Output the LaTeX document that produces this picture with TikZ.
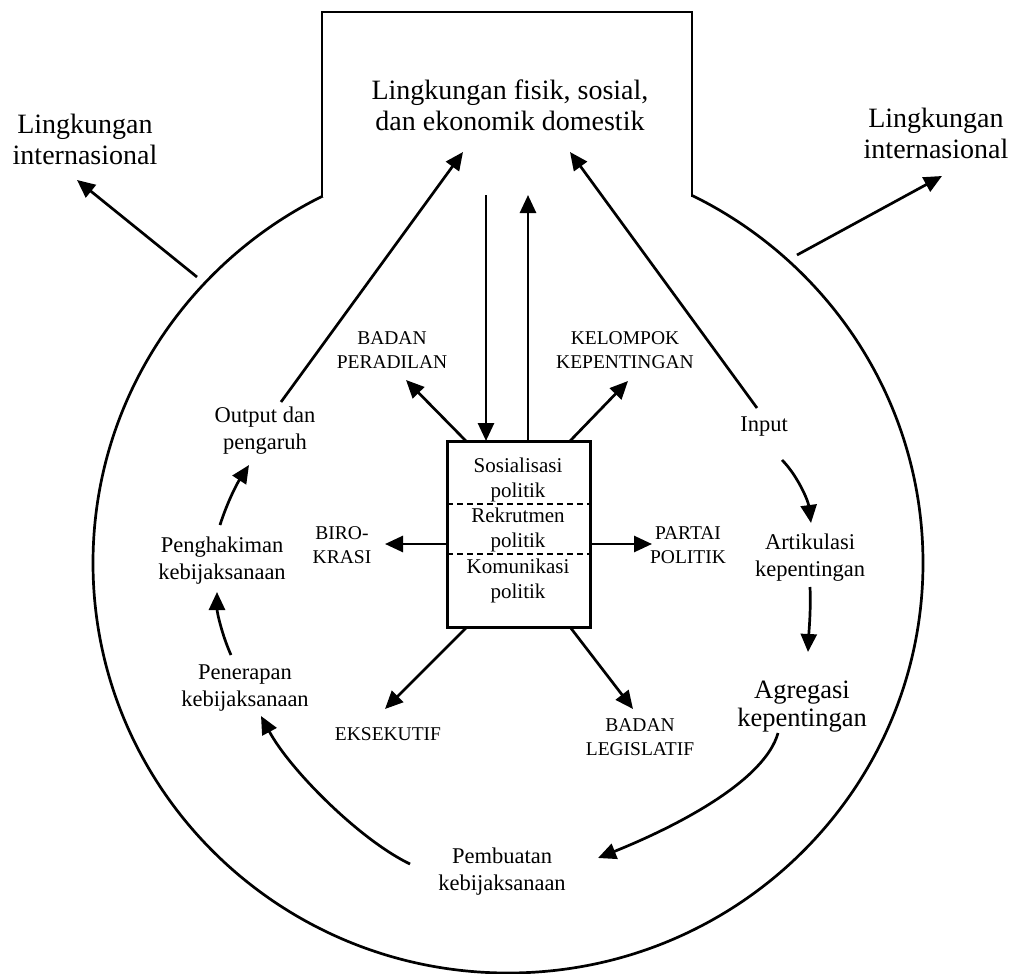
\documentclass[tikz,border=0pt]{standalone}
\usepackage{fontspec}
\setmainfont{Liberation Serif}
\usetikzlibrary{arrows.meta}
\begin{document}
\begin{tikzpicture}[x=1pt,y=-1pt,
  ln/.style={line width=2.7pt},
  arr/.style={ln,-{Triangle[length=18pt,width=16pt]}},
  big/.style={align=center,inner sep=0pt,font=\fontsize{28}{31}\selectfont},
  mid/.style={align=center,inner sep=0pt,font=\fontsize{22.5}{27}\selectfont},
  agr/.style={align=center,inner sep=0pt,font=\fontsize{26.5}{28}\selectfont},
  caps/.style={align=center,inner sep=0pt,font=\fontsize{19.5}{23.5}\selectfont},
  boxt/.style={align=center,inner sep=0pt,font=\fontsize{21}{24.5}\selectfont}]
\useasboundingbox (0,0) rectangle (1013,974);
% outer shape: circle with domestic box on top
\draw[ln] (508,563) ellipse[x radius=415pt, y radius=410pt];
\fill[white] (322,12) rectangle (692,197);
\draw[ln, line join=miter] (322,197) -- (322,12) -- (692,12) -- (692,197);

% texts
\node[big] (dom) at (510,105) {Lingkungan fisik, sosial,\\dan ekonomik domestik};
\node[big] (intl) at (85,139) {Lingkungan\\internasional};
\node[big] (intr) at (936,133) {Lingkungan\\internasional};

% central box
\node[draw, line width=3pt, minimum width=143pt, minimum height=186pt, inner sep=0pt] (box) at (518.5,534) {};
\coordinate (d1w) at (447,504); \coordinate (d1e) at (590,504);
\coordinate (d2w) at (447,554); \coordinate (d2e) at (590,554);
\draw[line width=1.6pt, dash pattern=on 6pt off 4pt] (d1w) -- (d1e);
\draw[line width=1.6pt, dash pattern=on 6pt off 4pt] (d2w) -- (d2e);
\node[boxt] (sos) at (518,480) {Sosialisasi\\politik};
\node[boxt] (rek) at (518,530) {Rekrutmen\\politik};
\node[boxt] (kom) at (518,581) {Komunikasi\\politik};

% structures
\node[caps] (perad) at (392,350) {BADAN\\PERADILAN};
\node[caps] (kelom) at (625,350) {KELOMPOK\\KEPENTINGAN};
\node[caps] (biro) at (342,545) {BIRO-\\KRASI};
\node[caps] (partai) at (688,545) {PARTAI\\POLITIK};
\node[caps] (eks) at (388,734) {EKSEKUTIF};
\node[caps] (legis) at (640,737) {BADAN\\LEGISLATIF};

% cycle labels
\node[mid] (outp) at (265,431) {Output dan\\pengaruh};
\node[mid] (hakim) at (222,561) {Penghakiman\\kebijaksanaan};
\node[mid] (terap) at (245,688) {Penerapan\\kebijaksanaan};
\node[mid] (buat) at (502,872) {Pembuatan\\kebijaksanaan};
\node[mid] (input) at (764,427) {Input};
\node[mid] (artik) at (810,558) {Artikulasi\\kepentingan};
\node[agr] (agreg) at (802,707) {Agregasi\\kepentingan};

% endpoints
\coordinate (domL) at (463,152);
\coordinate (domR) at (570,152);
\coordinate (domD) at (486,195);
\coordinate (domU) at (528,195);
\coordinate (boxD) at (486,441);
\coordinate (boxU) at (528,441);
\coordinate (cirL) at (197,277);
\coordinate (cirR) at (797,255);
\coordinate (intlT) at (77,180);
\coordinate (intrT) at (942,176);
\coordinate (outS) at (281,402);
\coordinate (inS) at (757,408);
\coordinate (bTL) at (466,441);
\coordinate (bTR) at (570,441);
\coordinate (bL) at (447,544);
\coordinate (bR) at (590,544);
\coordinate (bBL) at (467,627);
\coordinate (bBR) at (570,627);
\coordinate (peradT) at (406,380);
\coordinate (kelomT) at (628,381);
\coordinate (biroT) at (385,544);
\coordinate (partaiT) at (652,544);
\coordinate (eksT) at (385,709);
\coordinate (legisT) at (633,709);

% arrows
\draw[arr] (cirL) -- (intlT);
\draw[arr] (cirR) -- (intrT);
\draw[arr] (domD) -- (boxD);
\draw[arr] (boxU) -- (domU);
\draw[arr] (outS) -- (domL);
\draw[arr] (inS) -- (domR);
\draw[arr] (bTL) -- (peradT);
\draw[arr] (bTR) -- (kelomT);
\draw[arr] (bL) -- (biroT);
\draw[arr] (bR) -- (partaiT);
\draw[arr] (bBL) -- (eksT);
\draw[arr] (bBR) -- (legisT);

% cycle
\draw[arr] (782,460) .. controls (797,475) and (808,500) .. (811,523);
\draw[arr] (810,587) .. controls (811,610) and (809,630) .. (808,652);
\draw[arr] (778,733) .. controls (765,780) and (680,825) .. (598,858);
\draw[arr] (410,864) .. controls (360,840) and (290,770) .. (261,716);
\draw[arr] (231,655) .. controls (222,635) and (217,612) .. (217,592);
\draw[arr] (220,525) .. controls (228,500) and (238,482) .. (249,465);
\end{tikzpicture}
\end{document}
